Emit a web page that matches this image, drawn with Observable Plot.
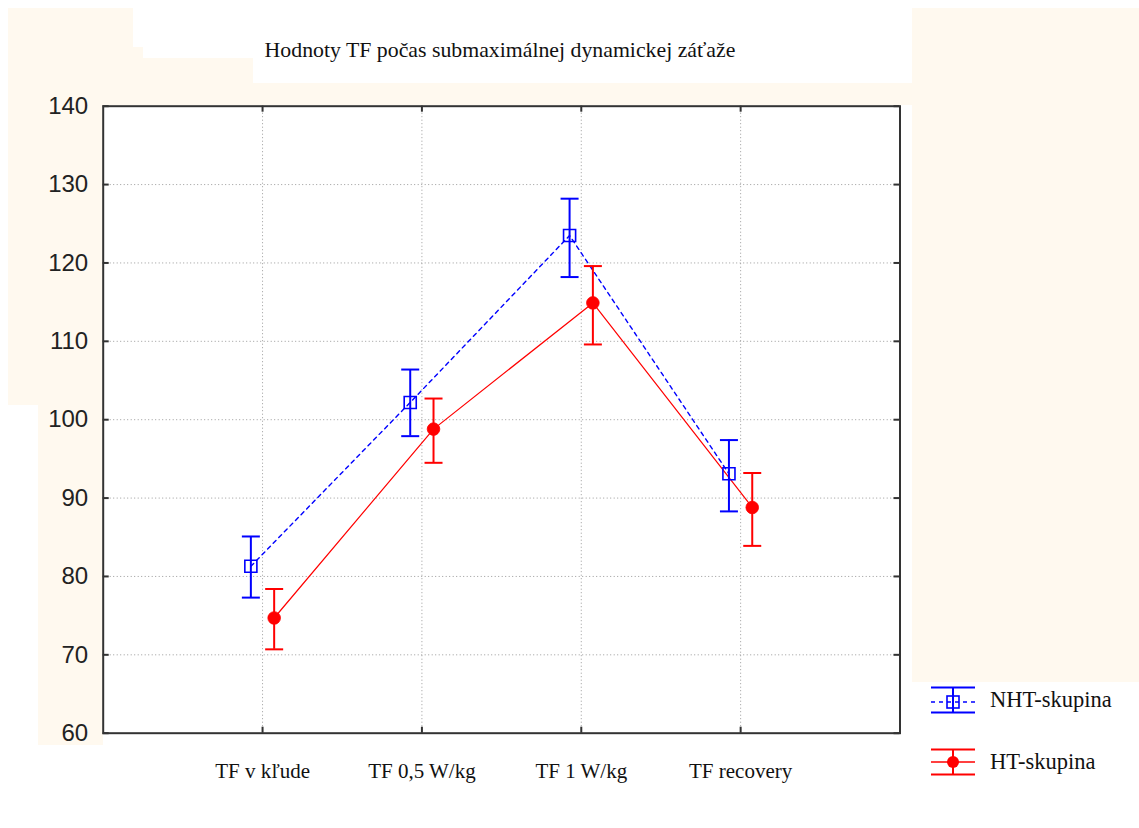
<!DOCTYPE html>
<html>
<head>
<meta charset="utf-8">
<script src="https://cdn.jsdelivr.net/npm/d3@7"></script>
<script src="https://cdn.jsdelivr.net/npm/@observablehq/plot@0.6"></script>
<style>
  html, body { margin: 0; padding: 0; background: #ffffff; }
  #wrap { position: relative; width: 1139px; height: 828px; overflow: hidden; background: #ffffff; }
  .cream { position: absolute; background: #fff9ef; }
  #title { position: absolute; left: 0; top: 38px; width: 1000px; text-align: center;
           font-family: "Liberation Serif", "Times New Roman", serif; font-size: 21.8px; color: #111; }
  #chart { position: absolute; left: 0; top: 90px; }
  #legend { position: absolute; left: 912px; top: 682px; width: 200px; height: 125px; background: #ffffff; }
  .item { position: absolute; left: 18px; height: 30px; display: flex; align-items: center; }
  .item span { margin-left: 14px; font-family: "Liberation Serif", "Times New Roman", serif; font-size: 22.5px; color: #111; }
</style>
</head>
<body>
<div id="wrap">
  <div class="cream" style="left:8px;top:8px;width:125px;height:97px"></div>
  <div class="cream" style="left:133px;top:47px;width:10px;height:58px"></div>
  <div class="cream" style="left:143px;top:58px;width:110px;height:47px"></div>
  <div class="cream" style="left:253px;top:83px;width:659px;height:22px"></div>
  <div class="cream" style="left:912px;top:8px;width:227px;height:674px"></div>
  <div class="cream" style="left:8px;top:105px;width:95px;height:300px"></div>
  <div class="cream" style="left:38px;top:405px;width:65px;height:340px"></div>
  <div id="title">Hodnoty TF počas submaximálnej dynamickej záťaže</div>
  <div id="chart"></div>
  <div id="legend">
    <div class="item" style="top:3px">
      <svg width="46" height="30" viewBox="0 0 46 30">
        <line x1="1" x2="45" y1="2.5" y2="2.5" stroke="#0000ff" stroke-width="2"/>
        <line x1="1" x2="45" y1="27.5" y2="27.5" stroke="#0000ff" stroke-width="2"/>
        <line x1="23" x2="23" y1="2.5" y2="27.5" stroke="#0000ff" stroke-width="2"/>
        <line x1="1" x2="45" y1="17" y2="17" stroke="#0000ff" stroke-width="1.3" stroke-dasharray="4,4"/>
        <rect x="17" y="11" width="12" height="12" fill="none" stroke="#0000ff" stroke-width="1.6"/>
      </svg>
      <span>NHT-skupina</span>
    </div>
    <div class="item" style="top:65px">
      <svg width="46" height="30" viewBox="0 0 46 30">
        <line x1="1" x2="45" y1="2.5" y2="2.5" stroke="#ff0000" stroke-width="2"/>
        <line x1="1" x2="45" y1="27.5" y2="27.5" stroke="#ff0000" stroke-width="2"/>
        <line x1="23" x2="23" y1="2.5" y2="27.5" stroke="#ff0000" stroke-width="2"/>
        <line x1="1" x2="45" y1="15" y2="15" stroke="#ff0000" stroke-width="1.3"/>
        <circle cx="23" cy="15" r="6" fill="#ff0000"/>
      </svg>
      <span>HT-skupina</span>
    </div>
  </div>
</div>
<script>
// ---- data ----
const categories = ["TF v kľude", "TF 0,5 W/kg", "TF 1 W/kg", "TF recovery"];
const nhtMean = [81.3, 102.2, 123.5, 93.1];
const nhtLow  = [77.3, 97.9, 118.2, 88.3];
const nhtHigh = [85.1, 106.4, 128.2, 97.4];
const htMean  = [74.7, 98.8, 114.9, 88.8];
const htLow   = [70.7, 94.5, 109.6, 83.9];
const htHigh  = [78.4, 102.7, 119.6, 93.2];
const yTicks  = [60, 70, 80, 90, 100, 110, 120, 130, 140];

// ---- build tables ----
const nht = categories.map((c, i) => ({cat: c, pos: i + 1, mean: nhtMean[i], lo: nhtLow[i], hi: nhtHigh[i]}));
const ht  = categories.map((c, i) => ({cat: c, pos: i + 1, mean: htMean[i], lo: htLow[i], hi: htHigh[i]}));
const catPos = categories.map((c, i) => i + 1);

const W = 1139, H = 738;
const mL = 102.7, mR = 239.5, mT = 15.7, mB = 95.3;
const plotW = W - mL - mR, plotH = H - mT - mB;

const BLUE = "#0000ff", RED = "#ff0000";
const capSymbol = { draw(ctx) { ctx.moveTo(-9, 0); ctx.lineTo(9, 0); } };
const dN = -11.7, dH = 11.6;

const chart = Plot.plot({
  width: W, height: H,
  marginLeft: mL, marginRight: mR, marginTop: mT, marginBottom: mB,
  style: {background: "transparent"},
  x: {domain: [0, 5], axis: null, label: null},
  y: {domain: [60, 140], axis: null, label: null},
  marks: [
    Plot.frame({fill: "white", stroke: null}),
    Plot.gridY(yTicks.slice(1, -1), {stroke: "#9a9a9a", strokeOpacity: 1, strokeDasharray: "1,2.5", strokeWidth: 1}),
    Plot.gridX(catPos, {stroke: "#9a9a9a", strokeOpacity: 1, strokeDasharray: "1,2.5", strokeWidth: 1}),
    // inward ticks on all four sides
    Plot.tickY(yTicks, {y: d => d, insetRight: plotW - 6, stroke: "#333", strokeWidth: 2}),
    Plot.tickY(yTicks, {y: d => d, insetLeft: plotW - 6, stroke: "#333", strokeWidth: 2}),
    Plot.tickX(catPos, {x: d => d, insetBottom: plotH - 6, stroke: "#333", strokeWidth: 2}),
    Plot.tickX(catPos, {x: d => d, insetTop: plotH - 6, stroke: "#333", strokeWidth: 2}),
    Plot.frame({stroke: "#333", strokeWidth: 2}),
    Plot.axisY(yTicks, {anchor: "left", tickSize: 0, tickPadding: 15, fontSize: 24, label: null,
      fontFamily: "'Liberation Sans', Arial, sans-serif", fill: "#222"}),
    Plot.axisX(catPos, {anchor: "bottom", tickSize: 0, tickPadding: 30, fontSize: 21, label: null,
      fontFamily: "'Liberation Serif', 'Times New Roman', serif", fill: "#111",
      tickFormat: d => categories[d - 1]}),
    // lines
    Plot.line(nht, {x: "pos", y: "mean", dx: dN, stroke: BLUE, strokeWidth: 1.4, strokeDasharray: "4,4"}),
    Plot.line(ht, {x: "pos", y: "mean", dx: dH, stroke: RED, strokeWidth: 1.2}),
    // error bars
    Plot.ruleX(nht, {x: "pos", y1: "lo", y2: "hi", dx: dN, stroke: BLUE, strokeWidth: 2}),
    Plot.dot(nht, {x: "pos", y: "hi", dx: dN, symbol: capSymbol, fill: "none", stroke: BLUE, strokeWidth: 2}),
    Plot.dot(nht, {x: "pos", y: "lo", dx: dN, symbol: capSymbol, fill: "none", stroke: BLUE, strokeWidth: 2}),
    Plot.ruleX(ht, {x: "pos", y1: "lo", y2: "hi", dx: dH, stroke: RED, strokeWidth: 2}),
    Plot.dot(ht, {x: "pos", y: "hi", dx: dH, symbol: capSymbol, fill: "none", stroke: RED, strokeWidth: 2}),
    Plot.dot(ht, {x: "pos", y: "lo", dx: dH, symbol: capSymbol, fill: "none", stroke: RED, strokeWidth: 2}),
    // markers
    Plot.dot(nht, {x: "pos", y: "mean", dx: dN, symbol: "square", r: 6.8, fill: "none", stroke: BLUE, strokeWidth: 1.6}),
    Plot.dot(ht, {x: "pos", y: "mean", dx: dH, symbol: "circle", r: 6.3, fill: RED, stroke: RED, strokeWidth: 0.8})
  ]
});
document.getElementById("chart").appendChild(chart);
</script>
</body>
</html>
